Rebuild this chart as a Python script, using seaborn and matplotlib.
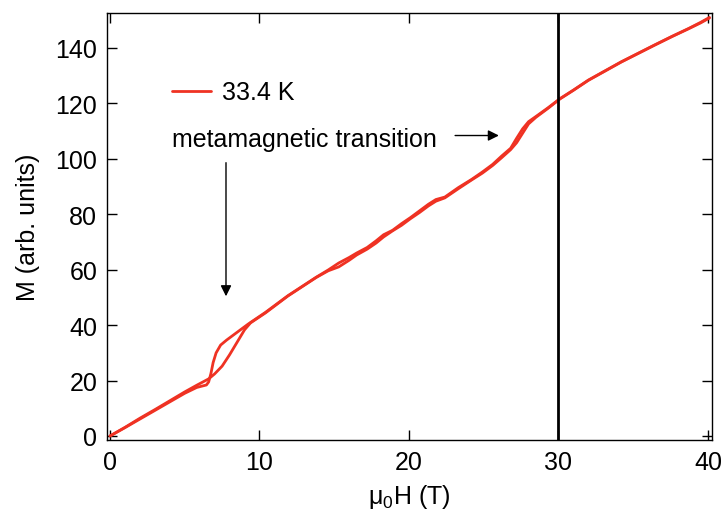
import numpy as np
import pandas as pd
import matplotlib
matplotlib.use("Agg")
import matplotlib.pyplot as plt
import seaborn as sns

# ------------------ DATA ------------------
# field up sweep
H_up = [0, 1, 2, 3, 4, 5, 5.8, 6.6, 7.0, 7.5, 8.0, 8.5, 9.0, 9.4, 10.4, 11.9, 13.8,
        14.6, 15.3, 16.0, 16.5, 17.2, 17.8, 18.3, 18.9, 19.5, 20.1, 20.7, 21.3, 21.8,
        22.4, 23.3, 24.2, 24.9, 25.6, 26.2, 26.8, 27.2, 27.6, 28.0, 28.5, 29.3, 30.1,
        31.0, 32.0, 33.0, 34.2, 35.3, 36.4, 37.6, 38.7, 39.5, 40.1]
M_up = [0, 3.1, 6.4, 9.5, 12.7, 15.9, 18.3, 20.6, 22.4, 25.2, 29.3, 33.8, 38.3, 40.8,
        44.4, 50.5, 57.2, 59.6, 61.0, 63.4, 65.3, 67.4, 69.6, 71.8, 74.0, 76.0, 78.4,
        80.6, 83.0, 84.7, 85.9, 89.2, 92.4, 94.8, 97.6, 100.4, 103.3, 105.8, 109.2,
        112.6, 115.0, 118.2, 121.6, 124.7, 128.3, 131.3, 134.9, 137.9, 140.9, 144.1,
        146.9, 149.0, 150.8]

# field down sweep
H_down = [40.1, 39.5, 38.7, 37.6, 36.4, 35.3, 34.2, 33.0, 32.0, 31.0, 30.1, 29.3, 28.5,
          28.0, 27.6, 27.2, 26.8, 26.2, 25.6, 24.9, 24.2, 23.3, 22.4, 21.8, 21.3, 20.7,
          20.1, 19.5, 18.9, 18.3, 17.8, 17.2, 16.5, 16.0, 15.3, 14.6, 13.8, 11.9, 10.4,
          9.25, 8.4, 7.8, 7.4, 7.1, 6.9, 6.75, 6.6, 6.45, 5.8, 5.0, 4.0, 3.0, 2.0, 1.0, 0]
M_down = [151.0, 149.2, 147.0, 144.2, 141.0, 138.0, 135.0, 131.4, 128.4, 124.8, 121.7,
          118.4, 115.3, 113.4, 110.8, 107.4, 103.8, 101.0, 98.0, 95.2, 92.6, 89.6, 86.2,
          85.3, 83.6, 81.2, 78.8, 76.6, 74.2, 72.6, 70.4, 68.0, 66.0, 64.4, 62.4, 59.9,
          57.3, 50.6, 44.6, 40.4, 37.0, 34.6, 32.8, 30.0, 26.5, 22.5, 19.5, 18.4, 17.5,
          15.4, 12.3, 9.2, 6.1, 3.0, 0]

x_ticks = [0, 10, 20, 30, 40]
y_ticks = [0, 20, 40, 60, 80, 100, 120, 140]

RED = "#ef3223"

df = pd.concat([
    pd.DataFrame({"H": H_up, "M": M_up, "sweep": "up"}),
    pd.DataFrame({"H": H_down, "M": M_down, "sweep": "down"}),
], ignore_index=True)

# ------------------ STYLE ------------------
sns.set_theme(style="ticks")
plt.rcParams["font.family"] = ["Liberation Sans", "DejaVu Sans"]
plt.rcParams["font.size"] = 18
plt.rcParams["text.color"] = "black"
plt.rcParams["axes.labelcolor"] = "black"

fig = plt.figure(figsize=(7.25, 5.1), dpi=100)
ax = fig.add_axes([107 / 725, 1 - 441 / 510, 605 / 725, 427 / 510])

sns.lineplot(data=df[df.sweep == "up"], x="H", y="M", sort=False, estimator=None,
             color=RED, lw=2.0, ax=ax, label="33.4 K")
sns.lineplot(data=df[df.sweep == "down"], x="H", y="M", sort=False, estimator=None,
             color=RED, lw=2.0, ax=ax)

ax.axvline(30, color="black", lw=2)

ax.set_xlim(-0.2, 40.27)
ax.set_ylim(-1.45, 152.6)
ax.set_xticks(x_ticks)
ax.set_yticks(y_ticks)
ax.tick_params(direction="in", length=7, width=1, top=True, right=True,
               labelsize=18, pad=7, colors="black")
for s in ax.spines.values():
    s.set_color("black")
    s.set_linewidth(1)

ax.set_xlabel("μ$_\\mathregular{0}$H (T)", fontsize=18, labelpad=6, color="black")
ax.set_ylabel("M (arb. units)", fontsize=18, labelpad=11, color="black")

# annotations
ax.text(4.13, 104.5, "metamagnetic transition", fontsize=18, va="baseline", ha="left",
        color="black")
ax.annotate("", xy=(7.76, 49.4), xytext=(7.76, 99.6),
            arrowprops=dict(arrowstyle="-|>", color="black", lw=1, mutation_scale=16))
ax.annotate("", xy=(26.2, 108.4), xytext=(22.9, 108.4),
            arrowprops=dict(arrowstyle="-|>", color="black", lw=1, mutation_scale=16))

leg = ax.legend(loc="center left", bbox_to_anchor=(0.108, 0.814), frameon=False,
                borderpad=0, borderaxespad=0, handlelength=1.55, handletextpad=0.45,
                fontsize=18)
for t in leg.get_texts():
    t.set_color("black")

fig.savefig("out.png", dpi=100)
